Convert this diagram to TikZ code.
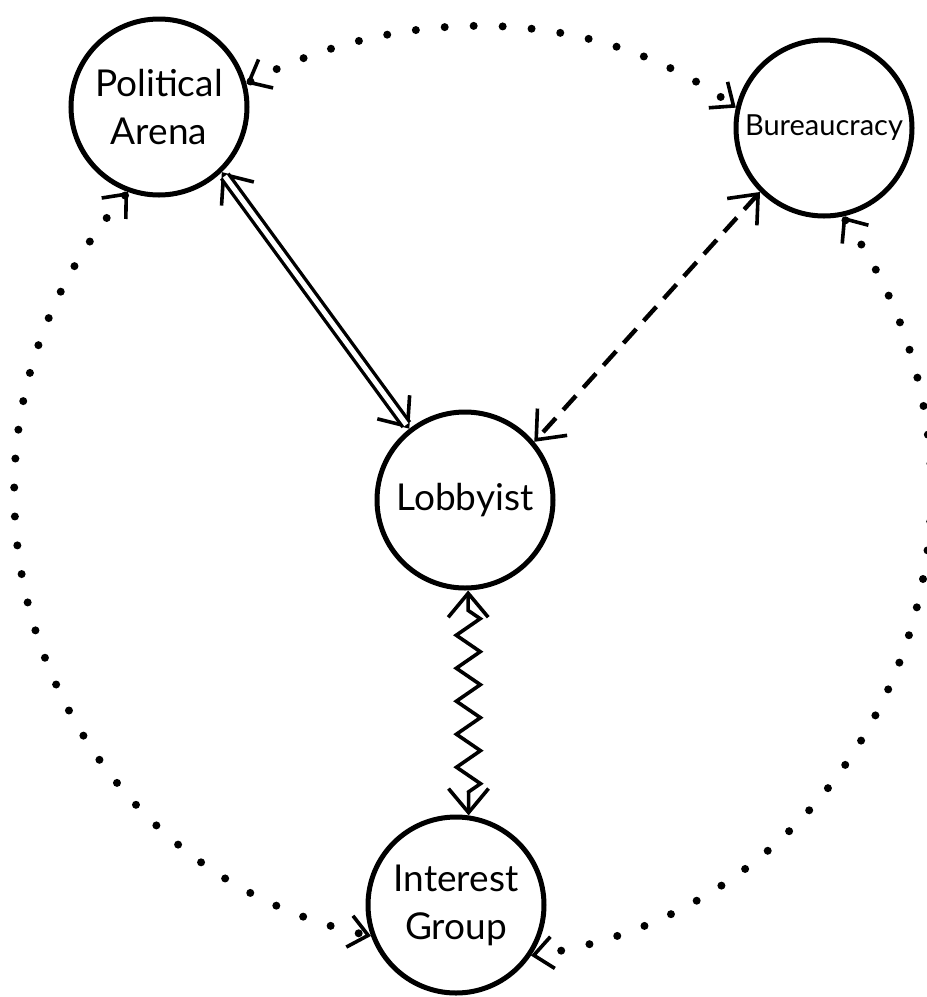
\documentclass[tikz,border=0pt]{standalone}
\usepackage{fontspec}
\setmainfont{Lato}
\usetikzlibrary{arrows.meta,decorations.pathmorphing}
\begin{document}
\begin{tikzpicture}[x=1pt,y=1pt,
  barb/.tip={Straight Barb[length=24pt,width=40pt,line width=3.6pt]},
  sbarb/.tip={Straight Barb[length=19pt,width=32pt,line width=3.6pt]},
  actor/.style={circle,draw,line width=5pt,minimum size=176pt,inner sep=0pt,align=center,
    font=\fontsize{37}{48}\selectfont},
  link/.style={line width=3.6pt,barb-barb},
  dots/.style={line width=8pt,line cap=round,dash pattern=on 0pt off 29pt,sbarb-sbarb},
  dashlink/.style={link,line width=4.4pt,dash pattern=on 19pt off 11pt},
  dbl/.style={line width=3.4pt,double,double distance=5pt,shorten <=5pt,shorten >=5pt},
  zig/.style={link,decorate,decoration={zigzag,segment length=33pt,amplitude=12pt,pre length=20pt,post length=20pt}}
]
\useasboundingbox (0,0) rectangle (927,-997);

\node[actor] (pa) at (159,-107) {Political\\Arena};
\node[actor,font=\fontsize{29}{34}\selectfont] (bu) at (824,-128) {Bureaucracy};
\node[actor] (lob) at (465,-500) {Lobbyist};
\node[actor] (ig) at (456,-905) {Interest\\Group};

% dotted outer arcs
\draw[dots] (pa.15) to[out=27,in=144,looseness=0.92] (bu.167);
\draw[dots] (pa.250) to[out=229,in=168,looseness=1.13] (ig.200);
\draw[dots] (bu.282) to[out=-55,in=8,looseness=1.12] (ig.326);

% double line
\draw[link] (pa.314) -- (lob.128);
\draw[dbl] (pa.314) -- (lob.128);

% dashed
\draw[dashlink] (bu.225) -- (lob.40);

% zigzag
\draw[zig] (lob.272) -- (ig.82);
\end{tikzpicture}
\end{document}
